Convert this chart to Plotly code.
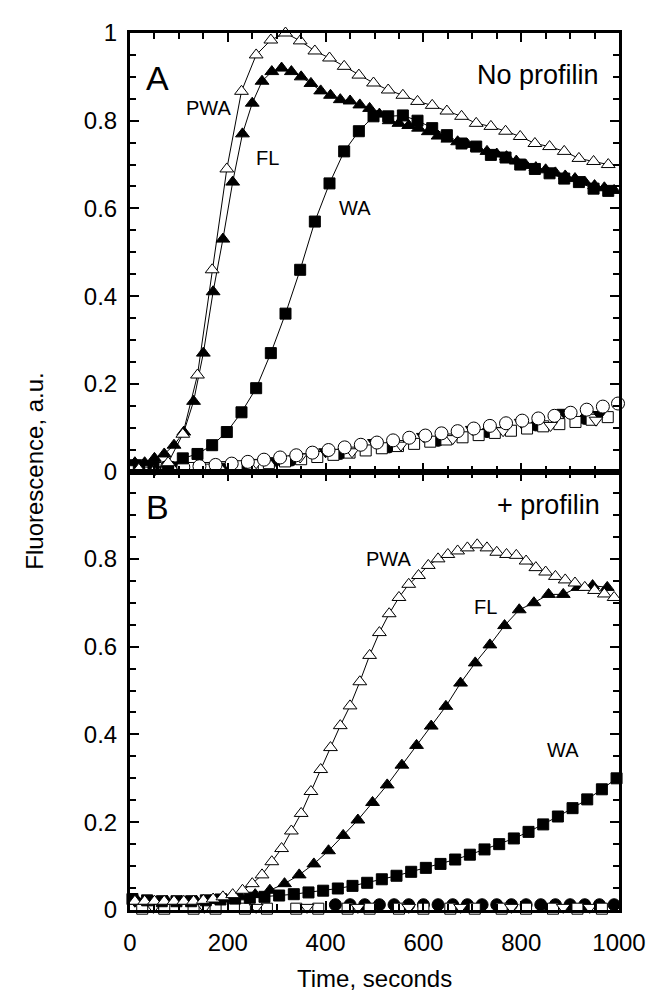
import plotly.graph_objects as go
from plotly.subplots import make_subplots

# ---------------- Panel A (no profilin) ----------------
a_pwa_t = [18, 48, 78, 108, 138, 168, 198, 228, 258, 288, 318, 348, 378, 408, 438, 468, 498, 528, 558,
           588, 618, 648, 678, 708, 738, 768, 798, 828, 858, 888, 918, 948, 978]
a_pwa_y = [0.005, 0.0, 0.02, 0.085, 0.22, 0.46, 0.69, 0.867, 0.95, 0.984, 1.0, 0.982, 0.959, 0.943, 0.924,
           0.904, 0.886, 0.870, 0.858, 0.844, 0.835, 0.822, 0.810, 0.794, 0.787, 0.776, 0.764, 0.748, 0.741,
           0.730, 0.714, 0.707, 0.700]

a_fl_t = [10, 30, 50, 70, 90, 110, 130, 150, 170, 190, 210, 230, 250, 270, 290, 310, 330, 350, 370, 390,
          410, 430, 450, 470, 490, 510, 530, 550, 570, 590, 610, 630, 650, 670, 690, 710, 730, 750, 770,
          790, 810, 830, 850, 870, 890, 910, 930, 950, 970, 990]
a_fl_y = [0.02, 0.02, 0.03, 0.04, 0.06, 0.09, 0.16, 0.27, 0.41, 0.53, 0.66, 0.77, 0.84, 0.89, 0.912, 0.92,
          0.912, 0.90, 0.885, 0.868, 0.858, 0.848, 0.845, 0.836, 0.828, 0.815, 0.80, 0.794, 0.789, 0.783,
          0.775, 0.765, 0.758, 0.752, 0.746, 0.738, 0.730, 0.724, 0.718, 0.708, 0.698, 0.693, 0.688, 0.681,
          0.674, 0.668, 0.66, 0.652, 0.647, 0.641]

a_wa_t = a_pwa_t
a_wa_y = [0.01, 0.01, 0.01, 0.03, 0.04, 0.06, 0.09, 0.135, 0.19, 0.27, 0.36, 0.46, 0.57, 0.657, 0.73, 0.776,
          0.81, 0.81, 0.812, 0.80, 0.783, 0.767, 0.748, 0.741, 0.722, 0.716, 0.70, 0.69, 0.68, 0.668, 0.66,
          0.645, 0.64]

a_ocirc_t = [10, 43, 76, 109, 142, 175, 208, 241, 274, 307, 340, 373, 406, 439, 472, 505, 538, 571, 604,
             637, 670, 703, 736, 769, 802, 835, 868, 901, 934, 967, 998]
a_ocirc_y = [0.01, 0.01, 0.01, 0.01, 0.012, 0.015, 0.018, 0.022, 0.027, 0.032, 0.037, 0.043, 0.049, 0.055,
             0.061, 0.066, 0.071, 0.077, 0.082, 0.087, 0.092, 0.098, 0.104, 0.11, 0.116, 0.121, 0.127,
             0.134, 0.141, 0.148, 0.155]

a_osq_t = [20, 53, 86, 119, 152, 185, 218, 251, 284, 317, 350, 383, 416, 449, 482, 515, 548, 581, 614,
           647, 680, 713, 746, 779, 812, 845, 878, 911, 944, 977]
a_osq_y = [0.008, 0.008, 0.008, 0.008, 0.008, 0.01, 0.012, 0.015, 0.019, 0.023, 0.028, 0.033, 0.038, 0.043,
           0.048, 0.053, 0.058, 0.063, 0.068, 0.073, 0.078, 0.083, 0.088, 0.093, 0.098, 0.103, 0.108,
           0.113, 0.118, 0.124]

a_fdown_t = [10, 100, 200, 300, 400, 500, 600, 700, 800, 887, 960]
a_fdown_y = [0.02, 0.015, 0.012, 0.023, 0.045, 0.066, 0.08, 0.096, 0.112, 0.135, 0.13]

a_odown_t = [51, 157, 258, 348, 454, 554, 660, 763, 860, 953]
a_odown_y = [0.004, 0.01, 0.02, 0.033, 0.045, 0.06, 0.075, 0.093, 0.105, 0.117]

a_fcirc_t = [30, 130, 230, 330, 430, 530, 630, 730, 830, 930]
a_fcirc_y = [0.008, 0.008, 0.012, 0.025, 0.04, 0.055, 0.07, 0.09, 0.105, 0.12]

# ---------------- Panel B (+ profilin) ----------------
b_pwa_t = [10, 30, 50, 70, 90, 110, 130, 150, 170, 190, 210, 230, 250, 270, 290, 310, 330, 350, 370, 390,
           410, 430, 450, 470, 490, 510, 530, 550, 570, 590, 610, 630, 650, 670, 690, 710, 730, 750, 770,
           790, 810, 830, 850, 870, 890, 910, 930, 950, 970, 990]
b_pwa_y = [0.02, 0.02, 0.02, 0.02, 0.02, 0.02, 0.02, 0.022, 0.025, 0.03, 0.035, 0.045, 0.06, 0.08, 0.11,
           0.14, 0.18, 0.22, 0.27, 0.32, 0.37, 0.42, 0.465, 0.52, 0.58, 0.632, 0.675, 0.712, 0.742, 0.762,
           0.785, 0.80, 0.81, 0.818, 0.825, 0.832, 0.825, 0.815, 0.81, 0.808, 0.795, 0.78, 0.77, 0.76,
           0.752, 0.745, 0.735, 0.728, 0.72, 0.712]

b_fl_t = [16, 46, 76, 106, 136, 166, 196, 226, 256, 286, 316, 346, 376, 406, 436, 466, 496, 526, 556, 586,
          616, 646, 676, 706, 736, 766, 796, 826, 856, 886, 916, 946, 976]
b_fl_y = [0.02, 0.02, 0.02, 0.02, 0.02, 0.022, 0.025, 0.03, 0.035, 0.045, 0.06, 0.08, 0.105, 0.135, 0.17,
          0.205, 0.245, 0.285, 0.33, 0.375, 0.419, 0.464, 0.517, 0.563, 0.604, 0.648, 0.684, 0.70, 0.719,
          0.719, 0.735, 0.739, 0.735]

b_wa_t = [5, 35, 65, 95, 125, 155, 185, 215, 245, 275, 305, 335, 365, 395, 425, 455, 485, 515, 545, 575,
          605, 635, 665, 695, 725, 755, 785, 815, 845, 875, 905, 935, 965, 995]
b_wa_y = [0.025, 0.022, 0.02, 0.02, 0.02, 0.022, 0.024, 0.026, 0.028, 0.03, 0.033, 0.036, 0.04, 0.044,
          0.049, 0.055, 0.062, 0.07, 0.078, 0.087, 0.096, 0.105, 0.115, 0.126, 0.138, 0.15, 0.163, 0.178,
          0.195, 0.213, 0.232, 0.252, 0.275, 0.30]

b_fcirc_t = [420, 450, 480, 510, 540, 570, 600, 630, 660, 690, 720, 750, 780, 810, 840, 870, 900, 930,
             960, 990]
b_fcirc_y = [0.012] * 20

b_osq_t = [25, 70, 130, 175, 235, 280, 340, 385, 445, 490, 550, 600, 655, 705, 760, 810, 865, 915, 965]
b_osq_y = [0.003] * 19

b_odown_t = [48, 152, 258, 362, 466, 570, 676, 780, 886, 940]
b_odown_y = [0.006] * 10

b_fdown_t = [10, 60]
b_fdown_y = [0.02, 0.015]

FONT = "Liberation Sans, Arial, Helvetica, sans-serif"

fig = make_subplots(rows=2, cols=1, vertical_spacing=0)


def add(t, y, symbol, fill, row, line=True, size=11):
    fig.add_trace(go.Scatter(
        x=t, y=y, mode="lines+markers" if line else "markers",
        line=dict(color="black", width=1),
        marker=dict(symbol=symbol, size=size, color=fill, line=dict(color="black", width=1)),
        cliponaxis=False, showlegend=False), row=row, col=1)


# panel A
add(a_fcirc_t, a_fcirc_y, "circle", "black", 1, line=False, size=11)
add(a_osq_t, a_osq_y, "square", "white", 1, line=False, size=11)
add(a_fdown_t, a_fdown_y, "triangle-down", "black", 1, line=False, size=12)
add(a_odown_t, a_odown_y, "triangle-down", "white", 1, line=False, size=12)
add(a_ocirc_t, a_ocirc_y, "circle", "white", 1, line=False, size=13)
add(a_wa_t, a_wa_y, "square", "black", 1, size=11)
add(a_fl_t, a_fl_y, "triangle-up", "black", 1, size=12)
add(a_pwa_t, a_pwa_y, "triangle-up", "white", 1, size=12)

# panel B
add(b_fdown_t, b_fdown_y, "triangle-down", "black", 2, line=False, size=12)
add(b_fcirc_t, b_fcirc_y, "circle", "black", 2, line=False, size=12)
add(b_osq_t, b_osq_y, "square", "white", 2, line=False, size=11)
add(b_odown_t, b_odown_y, "triangle-down", "white", 2, line=False, size=12)
add(b_wa_t, b_wa_y, "square", "black", 2, size=11)
add(b_fl_t, b_fl_y, "triangle-up", "black", 2, size=12)
add(b_pwa_t, b_pwa_y, "triangle-up", "white", 2, size=12)

axis_common = dict(
    showline=True, linewidth=3, linecolor="black", mirror="allticks",
    ticks="inside", ticklen=9, tickwidth=2, tickcolor="black",
    showgrid=False, zeroline=False, tickmode="linear", tick0=0,
    tickfont=dict(family=FONT, size=24, color="black"),
)

fig.update_xaxes(range=[0, 1000], dtick=200,
                 minor=dict(ticks="inside", ticklen=6, tickwidth=1.5, dtick=50, tick0=0,
                            tickcolor="black"),
                 **axis_common)
fig.update_xaxes(showticklabels=False, row=1, col=1)
fig.update_xaxes(showticklabels=True, ticklabelstandoff=9, row=2, col=1)

fig.update_yaxes(dtick=0.2,
                 minor=dict(ticks="inside", ticklen=6, tickwidth=1.5, dtick=0.05, tick0=0,
                            tickcolor="black"),
                 ticklabelstandoff=5, **axis_common)
fig.update_yaxes(range=[0, 1.0], domain=[0.5, 1.0], row=1, col=1)
fig.update_yaxes(range=[0, 0.999], domain=[0.0, 0.5], row=2, col=1)

ann = []


def label(text, x, y, ref, size=20):
    ann.append(dict(text=text, x=x, y=y, xref="x" if ref == 1 else "x2", yref="y" if ref == 1 else "y2",
                    showarrow=False, xanchor="center", yanchor="middle",
                    font=dict(family=FONT, size=size, color="black")))


label("A", 57, 0.897, 1, size=34)
label("No profilin", 834, 0.904, 1, size=27)
label("PWA", 160, 0.83, 1)
label("FL", 282, 0.714, 1)
label("WA", 460, 0.60, 1)

label("B", 57, 0.918, 2, size=34)
label("+ profilin", 855, 0.922, 2, size=27)
label("PWA", 528, 0.80, 2)
label("FL", 726, 0.69, 2)
label("WA", 885, 0.364, 2)

ann.append(dict(text="Fluorescence, a.u.", xref="paper", yref="paper", x=-0.196, y=0.5,
                textangle=-90, showarrow=False, xanchor="center", yanchor="middle",
                font=dict(family=FONT, size=24, color="black")))
ann.append(dict(text="Time, seconds", xref="paper", yref="paper", x=0.5, y=-0.078,
                showarrow=False, xanchor="center", yanchor="middle",
                font=dict(family=FONT, size=24, color="black")))

fig.update_layout(
    width=655, height=992,
    margin=dict(l=122, r=44, t=25, b=90),
    paper_bgcolor="white", plot_bgcolor="white",
    annotations=ann,
    font=dict(family=FONT, color="black"),
)

fig.write_html("out.html")
